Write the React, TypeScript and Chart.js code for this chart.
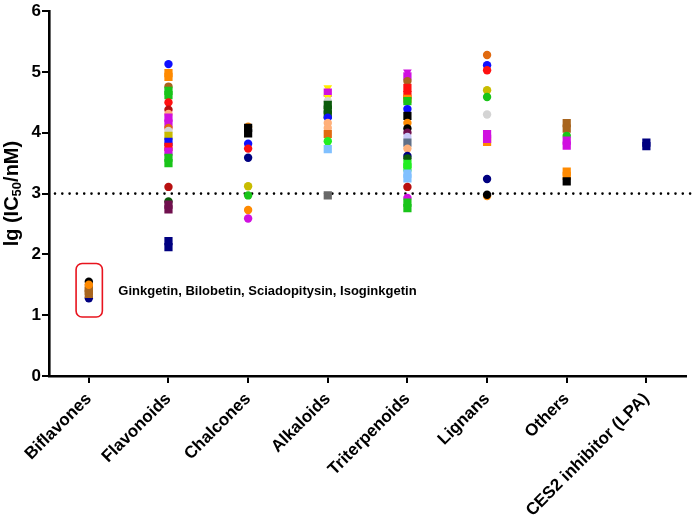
import React, { useEffect, useRef } from "react";
import { Chart, registerables } from "chart.js";

Chart.register(...registerables);

const categories = [
  "Biflavones",
  "Flavonoids",
  "Chalcones",
  "Alkaloids",
  "Triterpenoids",
  "Lignans",
  "Others",
  "CES2 inhibitor (LPA)",
];

// lg(IC50/nM) values per category
const biflavonesValues = [1.28, 1.35, 1.4, 1.45, 1.55, 1.5];
const flavonoidsValues = [
  5.13, 4.98, 4.92, 4.76, 4.69, 4.62, 4.5, 4.38, 4.31, 4.25, 4.15, 4.08, 4.03, 3.95, 3.85,
  3.77, 3.69, 3.59, 3.5, 3.11, 2.87, 2.82, 2.74, 2.22, 2.12,
];
const chalconesValues = [4.1, 4.08, 3.99, 3.82, 3.74, 3.59, 3.12, 2.97, 2.73, 2.59];
const alkaloidsValues = [4.74, 4.66, 4.58, 4.52, 4.46, 4.38, 4.3, 4.25, 4.16, 4.08, 3.98, 3.86, 3.73, 2.97];
const triterpenoidsValues = [
  5.0, 4.93, 4.85, 4.74, 4.62, 4.56, 4.52, 4.39, 4.28, 4.16, 4.07, 4.0, 3.93, 3.84, 3.74, 3.62,
  3.58, 3.49, 3.43, 3.33, 3.25, 3.11, 2.93, 2.85, 2.76,
];
const lignansValues = [5.28, 5.11, 5.03, 4.7, 4.59, 4.3, 3.85, 3.98, 3.9, 3.24, 2.96, 2.98];
const othersValues = [4.16, 4.07, 3.95, 3.87, 3.79, 3.36, 3.29, 3.2];
const ces2Values = [3.84, 3.78];

// marker styles (colour:shape) for each point, parallel to the value arrays
const biflavonesMarks = ["navy:c", "brown:s", "brown:s", "brown:s", "black:c", "orange:c"];
const flavonoidsMarks = [
  "blue:c", "orange:s", "orange:s", "brown:c", "green:s", "green:s", "red:c", "darkred:c", "peach:c",
  "magenta:s", "magenta:s", "chocolate:c", "lightgrey:c", "olive:s", "blue:s", "red:s", "magenta:s",
  "green:s", "green:s", "darkred:c", "darkgreen:c", "purple:s", "purple:s", "navy:s", "navy:s",
];
const chalconesMarks = [
  "orange:c", "black:s", "black:s", "blue:c", "red:c", "navy:c", "olive:c", "green:c", "orange:c", "magenta:c",
];
const alkaloidsMarks = [
  "yellow:v", "magenta:s", "yellow:v", "lightgrey:c", "darkgreen:s", "darkgreen:s", "darkgreen:s", "blue:c",
  "peach:c", "peach:c", "chocolate:s", "lime:c", "lightblue:s", "gray:s",
];
const triterpenoidsMarks = [
  "magenta:v", "magenta:s", "brown:c", "red:s", "red:s", "orange:s", "green:s", "blue:c", "black:s",
  "orange:c", "black:c", "purple:c", "lavender:c", "slate:s", "peach:c", "navy:c", "darkgreen:c", "lime:s",
  "lime:s", "lightblue:s", "lightblue:s", "darkred:c", "magenta:c", "green:s", "green:s",
];
const lignansMarks = [
  "chocolate:c", "blue:c", "red:c", "olive:c", "green:c", "lightgrey:c", "orange:s", "magenta:s", "magenta:s",
  "navy:c", "orange:c", "black:c",
];
const othersMarks = ["brown:s", "brown:s", "green:c", "magenta:s", "magenta:s", "orange:s", "orange:s", "black:s"];
const ces2Marks = ["navy:s", "navy:s"];

const seriesValues = [
  biflavonesValues, flavonoidsValues, chalconesValues, alkaloidsValues,
  triterpenoidsValues, lignansValues, othersValues, ces2Values,
];
const seriesMarks = [
  biflavonesMarks, flavonoidsMarks, chalconesMarks, alkaloidsMarks,
  triterpenoidsMarks, lignansMarks, othersMarks, ces2Marks,
];

const yTicks = [0, 1, 2, 3, 4, 5, 6];
const referenceLevel = 3;
const highlightText = "Ginkgetin, Bilobetin, Sciadopitysin, Isoginkgetin";

const palette: Record<string, string> = {
  blue: "#1010ff",
  orange: "#ff8a00",
  brown: "#a8651e",
  green: "#19c419",
  lime: "#22ee22",
  red: "#ff1010",
  darkred: "#b81010",
  peach: "#ffb07a",
  magenta: "#d010e0",
  lightgrey: "#d4d4d4",
  olive: "#c8bc00",
  navy: "#000080",
  purple: "#70104e",
  darkgreen: "#0a5a0a",
  black: "#000000",
  yellow: "#ffee00",
  lightblue: "#80c0ff",
  chocolate: "#e06a10",
  slate: "#607088",
  lavender: "#c8c8f8",
  gray: "#686868",
};

const FONT = "'Liberation Sans', Arial, sans-serif";

const overlayPlugin = {
  id: "overlay",
  beforeDatasetsDraw(chart: any) {
    const { ctx, chartArea, scales } = chart;
    const y = scales.y.getPixelForValue(referenceLevel);
    ctx.save();
    ctx.strokeStyle = "#000";
    ctx.lineWidth = 2.6;
    ctx.lineCap = "round";
    ctx.setLineDash([0, 7.3]);
    ctx.beginPath();
    ctx.moveTo(chartArea.left + 6, y);
    ctx.lineTo(chart.width, y);
    ctx.stroke();
    ctx.restore();
  },
  afterDatasetsDraw(chart: any) {
    const { ctx, scales } = chart;
    const x0 = scales.x.getPixelForValue(-0.16);
    const x1 = scales.x.getPixelForValue(0.17);
    const y0 = scales.y.getPixelForValue(1.85);
    const y1 = scales.y.getPixelForValue(0.97);
    ctx.save();
    ctx.strokeStyle = "#e8141e";
    ctx.lineWidth = 1.6;
    ctx.beginPath();
    (ctx as any).roundRect(x0, y0, x1 - x0, y1 - y0, 6);
    ctx.stroke();
    ctx.fillStyle = "#000";
    ctx.font = `bold 13px ${FONT}`;
    ctx.textBaseline = "middle";
    ctx.textAlign = "left";
    ctx.fillText(highlightText, scales.x.getPixelForValue(0.37), scales.y.getPixelForValue(1.39));
    // y-axis title with subscript
    const cy = (chart.chartArea.top + chart.chartArea.bottom) / 2;
    ctx.translate(12, cy);
    ctx.rotate(-Math.PI / 2);
    const big = `bold 20px ${FONT}`;
    const small = `bold 13px ${FONT}`;
    const parts: [string, string, number][] = [
      ["lg (IC", big, 0],
      ["50", small, 5],
      ["/nM)", big, 0],
    ];
    let total = 0;
    for (const [t, f] of parts) {
      ctx.font = f;
      total += ctx.measureText(t).width;
    }
    let x = -total / 2;
    ctx.textBaseline = "middle";
    for (const [t, f, dy] of parts) {
      ctx.font = f;
      ctx.fillText(t, x, dy);
      x += ctx.measureText(t).width;
    }
    ctx.restore();
  },
};

function markColor(m: string) {
  return palette[m.split(":")[0]];
}
function markShape(m: string) {
  const s = m.split(":")[1];
  return s === "c" ? "circle" : s === "s" ? "rect" : "triangle";
}
function markRadius(m: string) {
  const s = m.split(":")[1];
  return s === "c" ? 4.2 : s === "s" ? 5.8 : 5;
}

export default function App() {
  const ref = useRef<HTMLCanvasElement | null>(null);
  useEffect(() => {
    if (!ref.current) return;
    const datasets = seriesValues.map((vals, i) => {
      const marks = seriesMarks[i];
      return {
        label: categories[i],
        data: vals.map((v) => ({ x: i, y: v })),
        pointBackgroundColor: marks.map(markColor),
        pointBorderColor: marks.map(markColor),
        pointBorderWidth: 0,
        pointStyle: marks.map(markShape),
        pointRadius: marks.map(markRadius),
        pointRotation: marks.map((m) => (m.endsWith(":v") ? 180 : 0)),
        showLine: false,
      };
    });
    const chart = new Chart(ref.current, {
      type: "scatter",
      data: { datasets },
      options: {
        animation: false,
        responsive: true,
        maintainAspectRatio: false,
        layout: { padding: { top: 10, right: 1, left: 0, bottom: 0 } },
        plugins: { legend: { display: false }, tooltip: { enabled: false } },
        scales: {
          x: {
            type: "linear",
            min: -0.5,
            max: 7.5,
            afterBuildTicks: (scale: any) => {
              scale.ticks = categories.map((_, i) => ({ value: i }));
            },
            afterFit: (scale: any) => {
              scale.height = 148;
            },
            ticks: {
              autoSkip: false,
              minRotation: 45,
              maxRotation: 45,
              padding: 6,
              color: "#000",
              font: { family: FONT, size: 17, weight: "bold" },
              callback: (v: any) => categories[v as number] ?? "",
            },
            grid: {
              display: true,
              drawOnChartArea: false,
              drawTicks: true,
              tickLength: 7,
              color: "#000",
              lineWidth: 2,
            },
            border: { display: true, color: "#000", width: 2.6 },
          },
          y: {
            type: "linear",
            min: 0,
            max: 6,
            afterBuildTicks: (scale: any) => {
              scale.ticks = yTicks.map((v) => ({ value: v }));
            },
            afterFit: (scale: any) => {
              scale.width = 49;
            },
            ticks: {
              padding: 1,
              color: "#000",
              font: { family: FONT, size: 17, weight: "bold" },
            },
            grid: {
              display: true,
              drawOnChartArea: false,
              drawTicks: true,
              tickLength: 7,
              color: "#000",
              lineWidth: 2,
            },
            border: { display: true, color: "#000", width: 2.6 },
          },
        },
      },
      plugins: [overlayPlugin],
    } as any);
    return () => chart.destroy();
  }, []);
  return (
    <div style={{ position: "absolute", left: 0, top: 0, width: 692, height: 524, background: "#fff" }}>
      <canvas ref={ref} />
    </div>
  );
}
